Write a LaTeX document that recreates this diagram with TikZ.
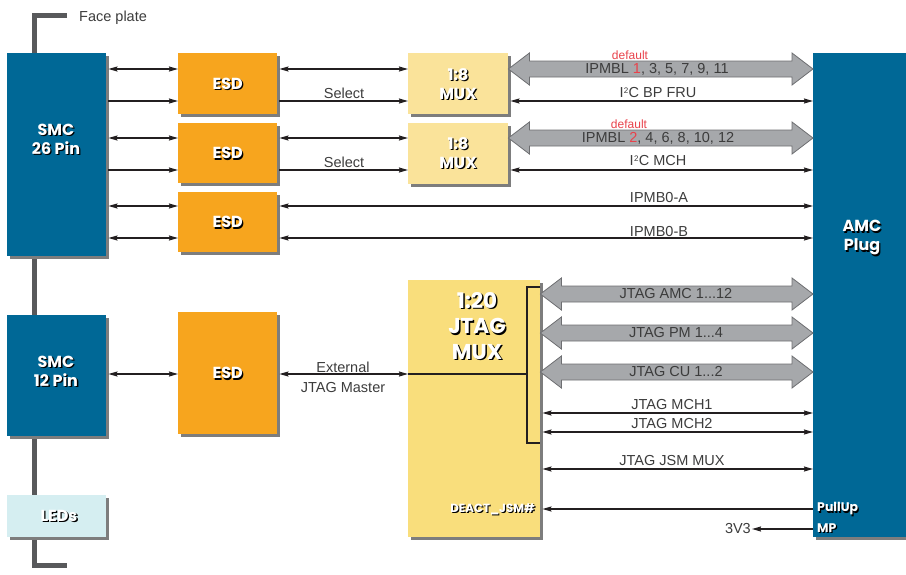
\documentclass[tikz,border=0pt]{standalone}
\usepackage{fontspec}
\setmainfont{Poppins}
\newfontfamily\labfont{Liberation Sans}
\usetikzlibrary{arrows.meta,shadows,calc}
\definecolor{smcblue}{RGB}{0,104,150}
\definecolor{esdorange}{RGB}{247,165,30}
\definecolor{muxyellow}{RGB}{250,227,154}
\definecolor{jtagyellow}{RGB}{249,222,124}
\definecolor{ledcyan}{RGB}{213,238,241}
\definecolor{arrfill}{RGB}{166,168,171}
\definecolor{arredge}{RGB}{110,111,114}
\definecolor{plategray}{RGB}{88,89,91}
\definecolor{shadowgray}{RGB}{125,125,125}
\definecolor{txtgray}{RGB}{60,60,60}
\definecolor{linecol}{RGB}{35,31,32}
\definecolor{redc}{RGB}{232,66,75}
\newcommand\shlbl[3]{%
  \node[blbl, text=black] at ([xshift=1.3pt,yshift=-1.3pt]#2) {#3};
  \node[blbl, text=white] (#1) at (#2) {#3};}
\newcommand\sqtwo{\kern0.3pt\raisebox{4.5pt}{\fontsize{8}{8}\selectfont 2}\kern0.3pt}
\newcommand\bigarrow[6]{% left node, right node, y, label name, label x, label
  \filldraw[bigarr] (#1.east |- 0,#3) -- ([xshift=21pt]#1.east |- 0,#3-16)
    -- ([xshift=21pt]#1.east |- 0,#3-8) -- ([xshift=-21pt]#2.west |- 0,#3-8)
    -- ([xshift=-21pt]#2.west |- 0,#3-16) -- (#2.west |- 0,#3)
    -- ([xshift=-21pt]#2.west |- 0,#3+16) -- ([xshift=-21pt]#2.west |- 0,#3+8)
    -- ([xshift=21pt]#1.east |- 0,#3+8) -- ([xshift=21pt]#1.east |- 0,#3+16) -- cycle;
  \node[tlbl] (#4) at (#5,#3) {#6};}
\begin{document}
\begin{tikzpicture}[x=1pt,y=-1pt,
  box/.style={draw=none, inner sep=0pt, anchor=north west,
    drop shadow={shadow xshift=2.5pt, shadow yshift=-2.5pt, fill=shadowgray, opacity=1}},
  blbl/.style={font=\bfseries\fontsize{16}{19}\selectfont, align=center, inner sep=0pt},
  tlbl/.style={font=\labfont\fontsize{14.5}{20}\selectfont, text=txtgray, align=center, inner sep=0pt},
  conn/.style={draw=linecol, line width=1.3pt},
  bigarr/.style={fill=arrfill, draw=arredge, line width=0.8pt}]
\useasboundingbox (0,0) rectangle (906,574);
% face plate
\draw[plategray, line width=5pt] (67,15.5) -- (34.5,15.5) -- (34.5,565) -- (67,565);
\node[tlbl, anchor=west] (fp) at (79,18) {Face plate};
% boxes
\node[box, fill=smcblue, minimum width=99pt, minimum height=203pt] (smc26) at (7,53) {};
\node[box, fill=smcblue, minimum width=99pt, minimum height=121pt] (smc12) at (7,315) {};
\node[box, fill=ledcyan, minimum width=99pt, minimum height=42pt] (leds) at (7,495) {};
\node[box, fill=esdorange, minimum width=99pt, minimum height=61pt] (esd1) at (178,53) {};
\node[box, fill=esdorange, minimum width=99pt, minimum height=60pt] (esd2) at (178,123) {};
\node[box, fill=esdorange, minimum width=99pt, minimum height=60pt] (esd3) at (178,192) {};
\node[box, fill=esdorange, minimum width=99pt, minimum height=122pt] (esd4) at (178,312) {};
\node[box, fill=muxyellow, minimum width=100pt, minimum height=61pt] (mux1) at (408,53) {};
\node[box, fill=muxyellow, minimum width=100pt, minimum height=61pt] (mux2) at (408,123) {};
\node[box, fill=jtagyellow, minimum width=132pt, minimum height=257pt] (jtag) at (408,280) {};
\node[box, fill=smcblue, minimum width=94pt, minimum height=484pt] (amc) at (813,53) {};
% box labels
\shlbl{l26}{56,139}{SMC\\26 Pin}
\shlbl{l12}{56,371}{SMC\\12 Pin}
\shlbl{lled}{59,516}{LEDs}
\shlbl{le1}{esd1.center}{ESD}
\shlbl{le2}{esd2.center}{ESD}
\shlbl{le3}{esd3.center}{ESD}
\shlbl{le4}{esd4.center}{ESD}
\shlbl{lm1}{458,84}{1:8\\MUX}
\shlbl{lm2}{458,153}{1:8\\MUX}
\node[blbl, text=black, font=\bfseries\fontsize{21.5}{25.5}\selectfont] at (478.5,327.5) {1:20\\JTAG\\MUX};
\node[blbl, text=white, font=\bfseries\fontsize{21.5}{25.5}\selectfont] (lj) at (477,326) {1:20\\JTAG\\MUX};
\shlbl{lamc}{862,238}{AMC\\Plug}
\node[blbl, text=black, font=\bfseries\fontsize{11.8}{12}\selectfont, anchor=east] at (536.2,510.2) {DEACT\_JSM\#};
\node[blbl, text=white, font=\bfseries\fontsize{11.8}{12}\selectfont, anchor=east] (ldeact) at (535,509) {DEACT\_JSM\#};
\node[blbl, text=black, font=\bfseries\fontsize{12.5}{12}\selectfont, anchor=west] at (818.2,510.2) {PullUp};
\node[blbl, text=white, font=\bfseries\fontsize{12.5}{12}\selectfont, anchor=west] (lpull) at (817,509) {PullUp};
\node[blbl, text=black, font=\bfseries\fontsize{12.5}{12}\selectfont, anchor=west] at (818.2,529.2) {MP};
\node[blbl, text=white, font=\bfseries\fontsize{12.5}{12}\selectfont, anchor=west] (lmp) at (817,528) {MP};
% SMC 26 to ESD
\draw[conn, {Stealth[length=9pt,width=5pt,inset=1pt]}-{Stealth[length=9pt,width=5pt,inset=1pt]}] ([xshift=2pt]smc26.east |- 0,69) -- (esd1.west |- 0,69);
\draw[conn, -{Stealth[length=9pt,width=5pt,inset=1pt]}] ([xshift=2pt]smc26.east |- 0,101) -- (esd1.west |- 0,101);
\draw[conn, {Stealth[length=9pt,width=5pt,inset=1pt]}-{Stealth[length=9pt,width=5pt,inset=1pt]}] ([xshift=2pt]smc26.east |- 0,138) -- (esd2.west |- 0,138);
\draw[conn, -{Stealth[length=9pt,width=5pt,inset=1pt]}] ([xshift=2pt]smc26.east |- 0,170) -- (esd2.west |- 0,170);
\draw[conn, {Stealth[length=9pt,width=5pt,inset=1pt]}-{Stealth[length=9pt,width=5pt,inset=1pt]}] ([xshift=2pt]smc26.east |- 0,206) -- (esd3.west |- 0,206);
\draw[conn, {Stealth[length=9pt,width=5pt,inset=1pt]}-{Stealth[length=9pt,width=5pt,inset=1pt]}] ([xshift=2pt]smc26.east |- 0,238) -- (esd3.west |- 0,238);
% ESD to MUX
\draw[conn, {Stealth[length=9pt,width=5pt,inset=1pt]}-{Stealth[length=9pt,width=5pt,inset=1pt]}] ([xshift=2pt]esd1.east |- 0,69) -- (mux1.west |- 0,69);
\draw[conn, -{Stealth[length=9pt,width=5pt,inset=1pt]}] ([xshift=2pt]esd1.east |- 0,101) -- (mux1.west |- 0,101);
\node[tlbl] (sel1) at (344,93) {Select};
\draw[conn, {Stealth[length=9pt,width=5pt,inset=1pt]}-{Stealth[length=9pt,width=5pt,inset=1pt]}] ([xshift=2pt]esd2.east |- 0,138) -- (mux2.west |- 0,138);
\draw[conn, -{Stealth[length=9pt,width=5pt,inset=1pt]}] ([xshift=2pt]esd2.east |- 0,170) -- (mux2.west |- 0,170);
\node[tlbl] (sel2) at (344,162) {Select};
% ESD3 to AMC
\draw[conn, {Stealth[length=9pt,width=5pt,inset=1pt]}-{Stealth[length=9pt,width=5pt,inset=1pt]}] ([xshift=2pt]esd3.east |- 0,206) -- (amc.west |- 0,206);
\node[tlbl] (ipa) at (659,198) {IPMB0-A};
\draw[conn, {Stealth[length=9pt,width=5pt,inset=1pt]}-{Stealth[length=9pt,width=5pt,inset=1pt]}] ([xshift=2pt]esd3.east |- 0,238) -- (amc.west |- 0,238);
\node[tlbl] (ipb) at (659,232) {IPMB0-B};
% MUX to AMC
\bigarrow{mux1}{amc}{69}{ipl1}{657}{IPMBL \textcolor{redc}{1}, 3, 5, 7, 9, 11}
\node[tlbl, text=redc, font=\labfont\fontsize{12}{12}\selectfont] (def1) at (630,55) {default};
\draw[conn, {Stealth[length=9pt,width=5pt,inset=1pt]}-{Stealth[length=9pt,width=5pt,inset=1pt]}] ([xshift=2pt]mux1.east |- 0,101) -- (amc.west |- 0,101);
\node[tlbl] (fru) at (658,93) {I\sqtwo C BP FRU};
\bigarrow{mux2}{amc}{138}{ipl2}{658}{IPMBL \textcolor{redc}{2}, 4, 6, 8, 10, 12}
\node[tlbl, text=redc, font=\labfont\fontsize{12}{12}\selectfont] (def2) at (629,124) {default};
\draw[conn, {Stealth[length=9pt,width=5pt,inset=1pt]}-{Stealth[length=9pt,width=5pt,inset=1pt]}] ([xshift=2pt]mux2.east |- 0,170) -- (amc.west |- 0,170);
\node[tlbl] (mch) at (658,161) {I\sqtwo C MCH};
% SMC12 - ESD4 - JTAG
\draw[conn, {Stealth[length=9pt,width=5pt,inset=1pt]}-{Stealth[length=9pt,width=5pt,inset=1pt]}] ([xshift=2pt]smc12.east |- 0,374) -- (esd4.west |- 0,374);
\draw[conn, {Stealth[length=9pt,width=5pt,inset=1pt]}-{Stealth[length=9pt,width=5pt,inset=1pt]}] ([xshift=2pt]esd4.east |- 0,374) -- (jtag.west |- 0,374);
\node[tlbl, align=center] (ext) at (343,377) {External\\JTAG Master};
\coordinate (brk) at (527,374);
\draw[conn] (jtag.west |- 0,374) -- (brk);
\draw[conn] (jtag.east |- 0,287) -- (527,287) -- (527,443) -- (jtag.east |- 0,443);
% JTAG to AMC
\bigarrow{jtag}{amc}{294}{ja}{676}{JTAG AMC 1...12}
\bigarrow{jtag}{amc}{333}{jp}{676}{JTAG PM 1...4}
\bigarrow{jtag}{amc}{372}{jc}{676}{JTAG CU 1...2}
\draw[conn, {Stealth[length=9pt,width=5pt,inset=1pt]}-{Stealth[length=9pt,width=5pt,inset=1pt]}] ([xshift=2pt]jtag.east |- 0,413) -- (amc.west |- 0,413);
\node[tlbl] (m1) at (672,405) {JTAG MCH1};
\draw[conn, {Stealth[length=9pt,width=5pt,inset=1pt]}-{Stealth[length=9pt,width=5pt,inset=1pt]}] ([xshift=2pt]jtag.east |- 0,432) -- (amc.west |- 0,432);
\node[tlbl] (m2) at (672,424) {JTAG MCH2};
\draw[conn, {Stealth[length=9pt,width=5pt,inset=1pt]}-{Stealth[length=9pt,width=5pt,inset=1pt]}] ([xshift=2pt]jtag.east |- 0,469) -- (amc.west |- 0,469);
\node[tlbl] (jsm) at (672,461) {JTAG JSM MUX};
\draw[conn, -{Stealth[length=9pt,width=5pt,inset=1pt]}] (amc.west |- 0,509) -- ([xshift=2pt]jtag.east |- 0,509);
\coordinate (v33) at (752,529);
\draw[conn, -{Stealth[length=9pt,width=5pt,inset=1pt]}] (amc.west |- 0,529) -- (v33);
\node[tlbl, anchor=east] (l33) at ([xshift=-1pt]v33) {3V3};
\end{tikzpicture}
\end{document}
